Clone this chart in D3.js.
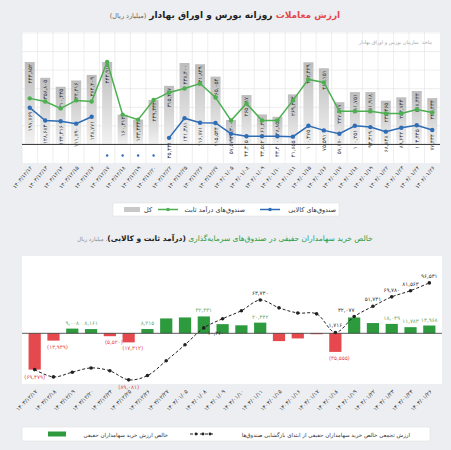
<!DOCTYPE html>
<html><head><meta charset="utf-8">
<script src="https://cdn.jsdelivr.net/npm/d3@7/dist/d3.min.js"></script>
<style>body{margin:0;background:#eceef1;}svg{display:block;font-family:"DejaVu Sans",sans-serif;}</style>
</head><body><svg id="c" width="451" height="450"></svg>
<script>
const topDates=["1403/12/12","1403/12/13","1403/12/14","1403/12/15","1403/12/16","1403/12/17","1403/12/18","1403/12/19","1403/12/20","1403/12/22","1403/12/25","1403/12/26","1403/12/27","1404/01/05","1404/01/08","1404/01/09","1404/01/10","1404/01/11","1404/01/15","1404/01/16","1404/01/17","1404/01/18","1404/01/19","1404/01/22","1404/01/23","1404/01/24","1404/01/26"];
const totalVals=[443852,358805,310435,344416,374409,443915,160312,133333,239333,315437,438400,431849,365054,131300,265887,161300,148852,269344,442429,410151,227417,281751,281918,235465,253744,287444,249434];
const fixedVals=[248000,231000,194000,237000,231000,443915,160312,133333,239333,280000,301000,328000,253000,129000,221000,129000,129000,237000,350000,334000,178000,178000,178000,167000,167000,188000,172000];
const commodityVals=[197769,128683,124416,111790,148771,0,0,0,0,35431,141381,116771,115544,57579,44315,43562,43400,41855,100475,75591,57770,100251,93319,68848,89642,103445,77434];
const botDates=["1403/12/17","1403/12/18","1403/12/19","1403/12/20","1403/12/24","1403/12/25","1403/12/26","1403/12/27","1404/01/05","1404/01/08","1404/01/09","1404/01/10","1404/01/11","1404/01/15","1404/01/16","1404/01/17","1404/01/18","1404/01/19","1404/01/22","1404/01/23","1404/01/24","1404/01/26"];
const netVals=[-69479,-13939,9008,8161,-5520,-17312,8215,28500,30395,32331,17600,15328,20442,-14930,-9800,-1729,-35555,30361,19654,18049,11783,14968];
const netLabelIdx=[1,2,3,4,5,6,9,12,16,19,20,21];
const cumLabelIdx=[0,5,9,12,16,17,18,19,20,21];

const fa=s=>String(s).replace(/\d/g,d=>"۰۱۲۳۴۵۶۷۸۹"[d]);
const fmt=v=>fa(d3.format(",")(Math.abs(v)));
const svg=d3.select("#c");
const RED="#e5484d",GREEN="#2e9a3e",BLUE="#2f6db5",LG="#4caf50";
const rtext=(g,x,y,s,size)=>g.append("text").attr("x",x).attr("y",y).attr("direction","rtl").attr("text-anchor","start").attr("font-size",size).attr("fill","#333").text(s);

// ---- Top chart ----
let t=svg.append("text").attr("x",225).attr("y",18).attr("text-anchor","middle").attr("direction","rtl").attr("font-size",9);
t.append("tspan").attr("fill",RED).attr("font-weight","bold").text("ارزش معاملات ");
t.append("tspan").attr("fill","#222").attr("font-weight","bold").text("روزانه بورس و اوراق بهادار ");
t.append("tspan").attr("fill","#666").attr("font-size",6.5).text("(میلیارد ریال)");

const x1=d3.scaleBand().domain(topDates).range([22,440]);
const y1=d3.scaleLinear().domain([-100000,600000]).range([163,33]);
const g1=svg.append("g");
g1.append("rect").attr("x",22).attr("y",32).attr("width",418).attr("height",131).attr("fill","#fff");
const defs=svg.append("defs");
const gr=defs.append("linearGradient").attr("id","gg").attr("x1",0).attr("y1",0).attr("x2",0).attr("y2",1);
gr.append("stop").attr("offset","0").attr("stop-color","#bdbdbd");
gr.append("stop").attr("offset","1").attr("stop-color","#f2f2f2");
g1.selectAll(".hg").data(d3.range(0,600001,100000)).join("line").attr("x1",22).attr("x2",440).attr("y1",d=>y1(d)).attr("y2",d=>y1(d)).attr("stroke","#e3e3e3").attr("stroke-width",0.6);
g1.selectAll(".vg").data(topDates).join("line").attr("x1",d=>x1(d)).attr("x2",d=>x1(d)).attr("y1",32).attr("y2",163).attr("stroke","#e3e3e3").attr("stroke-width",0.6);
const bw=10;
g1.selectAll(".tb").data(totalVals).join("rect").attr("x",(d,i)=>x1(topDates[i])+x1.bandwidth()/2-bw/2).attr("y",d=>y1(d)).attr("width",bw).attr("height",d=>y1(0)-y1(d)).attr("fill","url(#gg)");
g1.append("line").attr("x1",22).attr("x2",440).attr("y1",y1(0)).attr("y2",y1(0)).attr("stroke","#333").attr("stroke-width",1);
const cx=i=>x1(topDates[i])+x1.bandwidth()/2;
g1.selectAll(".tl").data(totalVals).join("text").attr("transform",(d,i)=>`translate(${cx(i)+2},${y1(d)+2}) rotate(-90)`).attr("text-anchor","end").attr("font-size",5.5).attr("fill","#333").text(d=>fmt(d));
const ln=d3.line().x((d,i)=>cx(i)).y(d=>y1(d));
g1.append("path").attr("d",ln(fixedVals)).attr("fill","none").attr("stroke",LG).attr("stroke-width",1.5);
g1.selectAll(".fp").data(fixedVals).join("circle").attr("cx",(d,i)=>cx(i)).attr("cy",d=>y1(d)).attr("r",2.2).attr("fill",LG);
const segs=[[0,5],[9,27]];
segs.forEach(([a,b])=>{g1.append("path").attr("d",d3.line().x(d=>cx(d)).y(d=>y1(commodityVals[d]))(d3.range(a,b))).attr("fill","none").attr("stroke",BLUE).attr("stroke-width",1.5);});
g1.selectAll(".cp").data(commodityVals).join("circle").attr("cx",(d,i)=>cx(i)).attr("cy",d=>d===0?y1(-60000):y1(d)).attr("r",d=>d===0?1.2:2.2).attr("fill",BLUE);
g1.selectAll(".cl").data(commodityVals).join("text").attr("transform",(d,i)=>`translate(${cx(i)+2},${y1(d)+4}) rotate(-90)`).attr("text-anchor","end").attr("font-size",5.5).attr("fill","#333").text(d=>d===0?"":fmt(d));
rtext(g1,432,44,"ماخذ: سازمان بورس و اوراق بهادار",5).attr("fill","#aaa");
g1.selectAll(".xl").data(topDates).join("text").attr("transform",(d,i)=>`translate(${cx(i)+3},${168}) rotate(-50)`).attr("text-anchor","end").attr("font-size",5.5).attr("fill","#333").text(d=>fa(d));
// legend top
const L1=svg.append("g");
L1.append("rect").attr("x",113).attr("y",203).attr("width",226).attr("height",13).attr("fill","#fff").attr("stroke","#ddd").attr("stroke-width",0.5);
L1.append("line").attr("x1",260).attr("x2",280).attr("y1",209.5).attr("y2",209.5).attr("stroke",BLUE).attr("stroke-width",1.5);
L1.append("circle").attr("cx",270).attr("cy",209.5).attr("r",1.8).attr("fill",BLUE);
rtext(L1,336,212,"صندوق‌های کالایی",6.5);
L1.append("line").attr("x1",158).attr("x2",178).attr("y1",209.5).attr("y2",209.5).attr("stroke",LG).attr("stroke-width",1.5);
L1.append("circle").attr("cx",168).attr("cy",209.5).attr("r",1.8).attr("fill",LG);
rtext(L1,245,212,"صندوق‌های درآمد ثابت",6.5);
L1.append("rect").attr("x",124).attr("y",207).attr("width",16).attr("height",5).attr("fill","#c8c8c8");
rtext(L1,152,212,"کل",6.5);

// ---- Bottom chart ----
let t2=svg.append("text").attr("x",225).attr("y",241).attr("text-anchor","middle").attr("direction","rtl").attr("font-size",7.5);
t2.append("tspan").attr("fill",GREEN).text("خالص خرید سهامداران حقیقی در صندوق‌های سرمایه‌گذاری ");
t2.append("tspan").attr("fill","#222").attr("font-weight","bold").text("(درآمد ثابت و کالایی)");
t2.append("tspan").attr("fill","#888").attr("font-size",5.5).text("، میلیارد ریال");
const x2=d3.scaleBand().domain(botDates).range([22,442]).padding(0.35);
const y2=d3.scaleLinear().domain([-97000,148000]).range([384,256]);
const g2=svg.append("g");
g2.append("rect").attr("x",22).attr("y",256).attr("width",420).attr("height",128).attr("fill","#fff");
const cum=[];netVals.reduce((a,v,i)=>(cum[i]=a+v),0);
const bx=i=>x2(botDates[i])+x2.bandwidth()/2;
g2.selectAll(".nb").data(netVals).join("rect").attr("x",(d,i)=>x2(botDates[i])).attr("width",x2.bandwidth()).attr("y",d=>y2(Math.max(0,d))).attr("height",d=>Math.abs(y2(d)-y2(0))).attr("fill",d=>d<0?RED:GREEN);
g2.append("line").attr("x1",22).attr("x2",442).attr("y1",y2(0)).attr("y2",y2(0)).attr("stroke","#333").attr("stroke-width",0.8);
g2.append("path").attr("d",d3.line().x((d,i)=>bx(i)).y(d=>y2(d)).curve(d3.curveCatmullRom)(cum)).attr("fill","none").attr("stroke","#222").attr("stroke-width",1).attr("stroke-dasharray","3,2");
g2.selectAll(".cm").data(cum).join("circle").attr("cx",(d,i)=>bx(i)).attr("cy",d=>y2(d)).attr("r",1.8).attr("fill","#222");
netLabelIdx.forEach(i=>{const v=netVals[i];
 g2.append("text").attr("x",bx(i)+(v<0?4:0)).attr("y",v<0?y2(v)+8:y2(v)-4).attr("text-anchor","middle").attr("font-size",5.5).attr("fill",v<0?RED:"#6aa86a").text(v<0?"("+fmt(v)+")":fmt(v));});
cumLabelIdx.forEach(i=>{const v=cum[i];
 let dx=0,dy=-5;if(v<0){dy=9;} if(i==9){dx=12;dy=7;} if(i==17){dx=-8;}
 g2.append("text").attr("x",bx(i)+dx).attr("y",y2(v)+dy).attr("text-anchor","middle").attr("font-size",5.5).attr("fill",v<0?RED:"#333").text(v<0?"("+fmt(v)+")":fmt(v));});
g2.selectAll(".xl2").data(botDates).join("text").attr("transform",(d,i)=>`translate(${bx(i)+3},${392}) rotate(-45)`).attr("text-anchor","end").attr("font-size",5.5).attr("fill","#333").text(d=>fa(d));
const L2=svg.append("g");
L2.append("rect").attr("x",22).attr("y",427).attr("width",408).attr("height",14).attr("fill","#fff").attr("stroke","#ddd").attr("stroke-width",0.5);
rtext(L2,410,436.5,"ارزش تجمعی خالص خرید سهامداران حقیقی از ابتدای بازگشایی صندوق‌ها",5.5);
L2.append("line").attr("x1",190).attr("x2",215).attr("y1",434).attr("y2",434).attr("stroke","#222").attr("stroke-dasharray","3,2");
[196,203,210].forEach(c=>L2.append("circle").attr("cx",c).attr("cy",434).attr("r",1.4).attr("fill","#222"));
rtext(L2,168,436.5,"خالص ارزش خرید سهامداران حقیقی",5.5);
L2.append("rect").attr("x",48).attr("y",431.5).attr("width",18).attr("height",5).attr("fill",GREEN);
</script></body></html>
